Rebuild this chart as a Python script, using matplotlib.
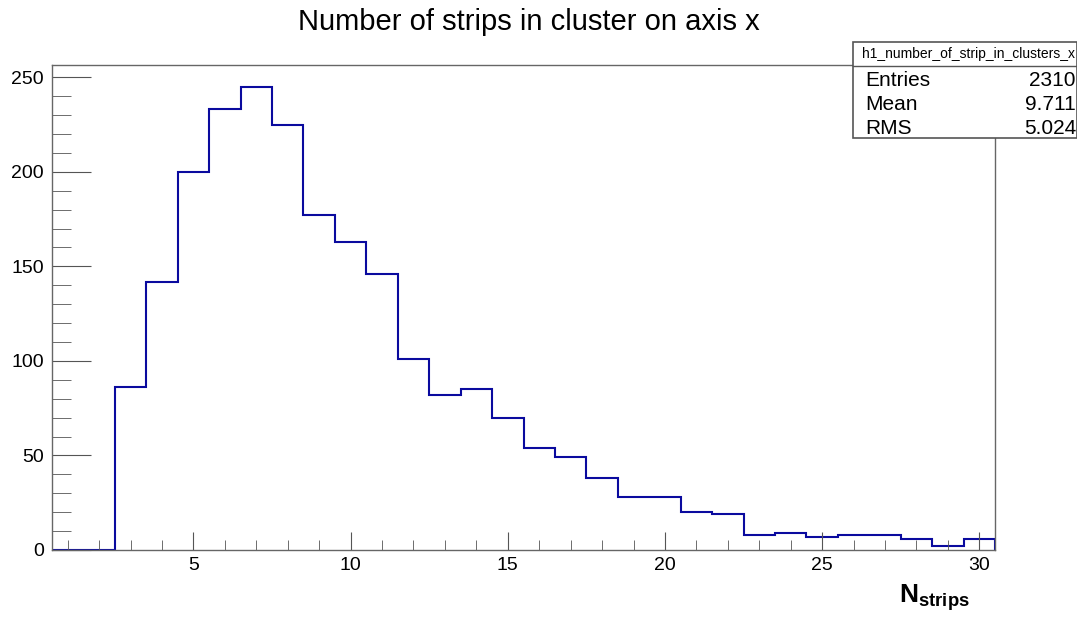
import matplotlib
matplotlib.use('Agg')
import matplotlib.pyplot as plt
import numpy as np
from matplotlib.patches import Rectangle
from matplotlib.ticker import MultipleLocator

plt.rcParams['font.family'] = ['Liberation Sans', 'DejaVu Sans']
plt.rcParams['mathtext.fontset'] = 'custom'
plt.rcParams['mathtext.rm'] = 'Liberation Sans'
plt.rcParams['mathtext.bf'] = 'Liberation Sans:bold'

# histogram contents, bins of width 1 centred on 1..30
bin_centers = np.arange(1, 31)
counts = [0, 0, 86, 142, 200, 233, 245, 225, 177, 163,
          146, 101, 82, 85, 70, 54, 49, 38, 28, 28,
          20, 19, 8, 9, 7, 8, 8, 6, 2, 6]
stat_names = ['Entries', 'Mean', 'RMS']
stat_values = ['2310', '9.711', '5.024']
hist_name = 'h1_number_of_strip_in_clusters_x'

edges = np.append(bin_centers - 0.5, bin_centers[-1] + 0.5)

fig = plt.figure(figsize=(10.77, 6.19), dpi=100)
ax = fig.add_axes([52/1077, 1 - 550/619, (995-52)/1077, (550-65)/619])

ax.stairs(counts, edges, color='#0a0a9e', linewidth=1.5)
ax.set_xlim(0.5, 30.5)
ax.set_ylim(0, 256.5)

ax.xaxis.set_major_locator(MultipleLocator(5))
ax.xaxis.set_minor_locator(MultipleLocator(1))
ax.yaxis.set_major_locator(MultipleLocator(50))
ax.yaxis.set_minor_locator(MultipleLocator(10))
ax.tick_params(axis='both', which='both', direction='in', top=False, right=False,
               color='#555555', labelsize=14)
ax.tick_params(axis='x', which='major', length=13, pad=5)
ax.tick_params(axis='x', which='minor', length=7)
ax.tick_params(axis='y', which='major', length=28, pad=6)
ax.tick_params(axis='y', which='minor', length=14)
for s in ax.spines.values():
    s.set_color('#666666')
    s.set_linewidth(1)

fig.text(529/1077, 1 - 22/619, 'Number of strips in cluster on axis x',
         ha='center', va='center', fontsize=21)
fig.text(970/1077, 1 - 598/619, r'$\mathbf{N_{strips}}$', ha='right', va='center',
         fontsize=19)

# stats box
x0, y0, x1, y1 = 853/1077, 1 - 138/619, 1.0, 1 - 42/619
fig.patches.append(Rectangle((x0, y0), x1 - x0, y1 - y0, transform=fig.transFigure,
                             facecolor='white', edgecolor='#555555', linewidth=1.2,
                             zorder=5))
fig.add_artist(plt.Line2D([x0, x1], [1 - 66/619] * 2, transform=fig.transFigure,
                          color='#555555', linewidth=1, zorder=6))
fig.text(862/1077, 1 - 54/619, hist_name, fontsize=10, va='center', zorder=7)
for i, (n, v) in enumerate(zip(stat_names, stat_values)):
    yy = 1 - (80 + 24*i)/619
    fig.text(865/1077, yy, n, fontsize=15, va='center', zorder=7)
    fig.text(1076/1077, yy, v, fontsize=15, va='center', ha='right', zorder=7)

fig.savefig('out.png', dpi=100)
